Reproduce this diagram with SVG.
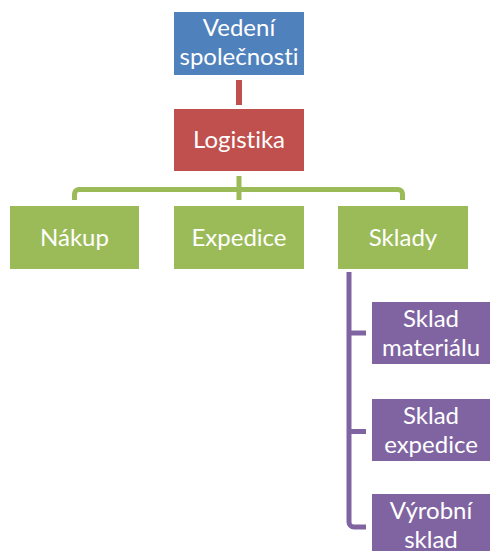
<svg xmlns="http://www.w3.org/2000/svg" width="496" height="551" viewBox="0 0 496 551">
<style>
.t{font-family:Lato,"Liberation Sans",sans-serif;font-size:24px;fill:#fff;text-anchor:middle;font-variant-ligatures:none}
.c{fill:none;stroke-width:5;stroke-linecap:butt;stroke-linejoin:round}
</style>
<rect width="496" height="551" fill="#fff"/>
<g id="connectors">
<line x1="239" y1="80" x2="239" y2="105" stroke="#C0504D" stroke-width="6"/>
<path class="c" stroke="#9BBB59" d="M239 176V200M74.5 200V194a4.5 4.5 0 0 1 4.5-4.5H398a4.5 4.5 0 0 1 4.5 4.5V200"/>
<path class="c" stroke="#8064A2" d="M349 272V522a5 5 0 0 0 5 5H366M349 333H366M349 431.5H366"/>
</g>
<g id="vedeni">
<rect x="174" y="12" width="130" height="63" fill="#4F81BD"/>
<text class="t" x="239" y="36">Vedení</text>
<text class="t" x="239" y="65">společnosti</text>
</g>
<g id="logistika">
<rect x="174" y="109" width="130" height="62" fill="#C0504D"/>
<text class="t" x="239" y="148">Logistika</text>
</g>
<g id="nakup">
<rect x="10" y="206" width="129" height="63" fill="#9BBB59"/>
<text class="t" x="74.5" y="246">Nákup</text>
</g>
<g id="expedice">
<rect x="174" y="206" width="130" height="63" fill="#9BBB59"/>
<text class="t" x="239" y="246">Expedice</text>
</g>
<g id="sklady">
<rect x="338" y="206" width="130" height="63" fill="#9BBB59"/>
<text class="t" x="403" y="246">Sklady</text>
</g>
<g id="sklad-materialu">
<rect x="372" y="302" width="118" height="62" fill="#8064A2"/>
<text class="t" x="431" y="326.5">Sklad</text>
<text class="t" x="431" y="355.5">materiálu</text>
</g>
<g id="sklad-expedice">
<rect x="372" y="399" width="118" height="62" fill="#8064A2"/>
<text class="t" x="431" y="423.5">Sklad</text>
<text class="t" x="431" y="452.5">expedice</text>
</g>
<g id="vyrobni-sklad">
<rect x="372" y="494" width="118" height="62" fill="#8064A2"/>
<text class="t" x="431" y="518.5">Výrobní</text>
<text class="t" x="431" y="547.5">sklad</text>
</g>
</svg>
